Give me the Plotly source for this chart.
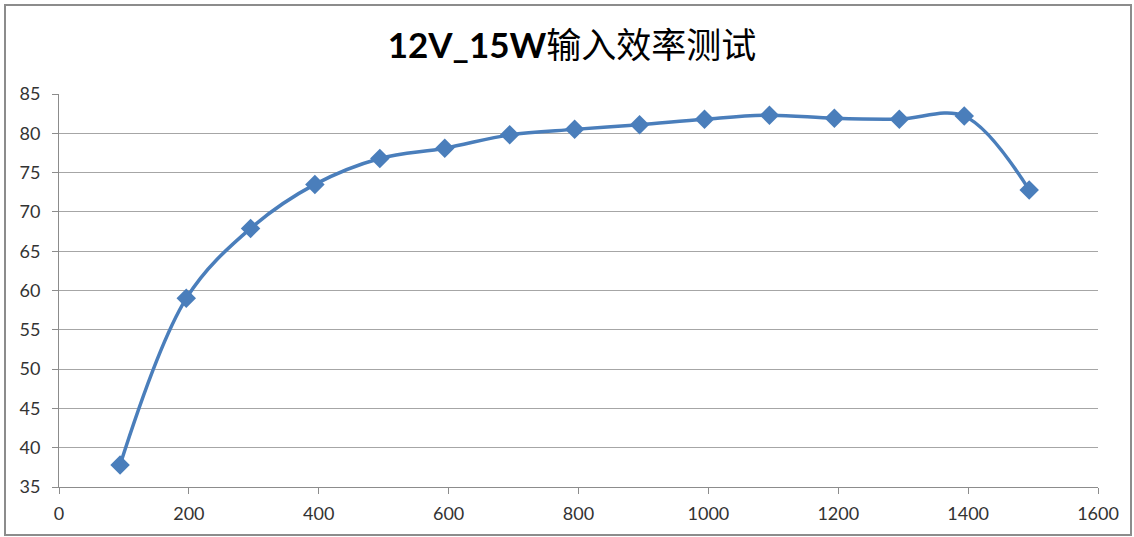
import plotly.graph_objects as go

load = [94, 196, 295, 394, 494, 594, 694, 794, 894, 994, 1094, 1194, 1294, 1394, 1494]
efficiency = [37.8, 59.0, 67.9, 73.5, 76.8, 78.1, 79.8, 80.5, 81.1, 81.8, 82.3, 81.9, 81.8, 82.2, 72.8]
title_latin = "12V_15W"
title_cjk = "输入效率测试"

W, H = 1134, 537
L, R, T, B = 59, 36, 94, 50
pw, ph = W - L - R, H - T - B

fig = go.Figure()
fig.add_trace(go.Scatter(
    x=load, y=efficiency, mode="lines+markers",
    line=dict(color="#4A7EBB", width=3.5, shape="spline", smoothing=1.0),
    marker=dict(symbol="diamond", size=15, color="#4A7EBB"),
    showlegend=False,
))

fig.update_layout(
    width=W, height=H,
    margin=dict(l=L, r=R, t=T, b=B, autoexpand=False),
    paper_bgcolor="white", plot_bgcolor="white",
    title=dict(text="<b>" + title_latin + "</b>" + title_cjk, x=572 / W, xanchor="center",
               y=1 - 46 / H, yanchor="middle",
               font=dict(family="Lato, Noto Sans CJK SC", size=35, color="#000000")),
    font=dict(family="Lato, Noto Sans CJK SC", size=18, color="#333333"),
    shapes=[dict(type="rect", xref="paper", yref="paper",
                 x0=(5 - L) / pw, x1=(1131 - L) / pw,
                 y0=(H - B - 535) / ph, y1=(H - B - 5) / ph,
                 line=dict(color="#8C8C8C", width=2), fillcolor="rgba(0,0,0,0)", layer="below")],
)
fig.update_xaxes(range=[0, 1600], dtick=200, tick0=0, showgrid=False,
                 showline=True, linecolor="#8C8C8C", linewidth=1,
                 ticks="outside", ticklen=6, tickcolor="#8C8C8C", zeroline=False,
                 ticklabelstandoff=4, automargin=False,
                 tickfont=dict(size=18, color="#333333"))
fig.update_yaxes(range=[35, 85], dtick=5, tick0=35, showgrid=True, gridcolor="#A6A6A6", gridwidth=1,
                 showline=True, linecolor="#8C8C8C", linewidth=1,
                 ticks="outside", ticklen=6, tickcolor="#8C8C8C", zeroline=False,
                 ticklabelstandoff=8, automargin=False,
                 tickfont=dict(size=18, color="#333333"))

fig.write_html("out.html", config={"displayModeBar": False},
               post_script="document.body.style.margin='0px';document.body.style.overflow='hidden';")
